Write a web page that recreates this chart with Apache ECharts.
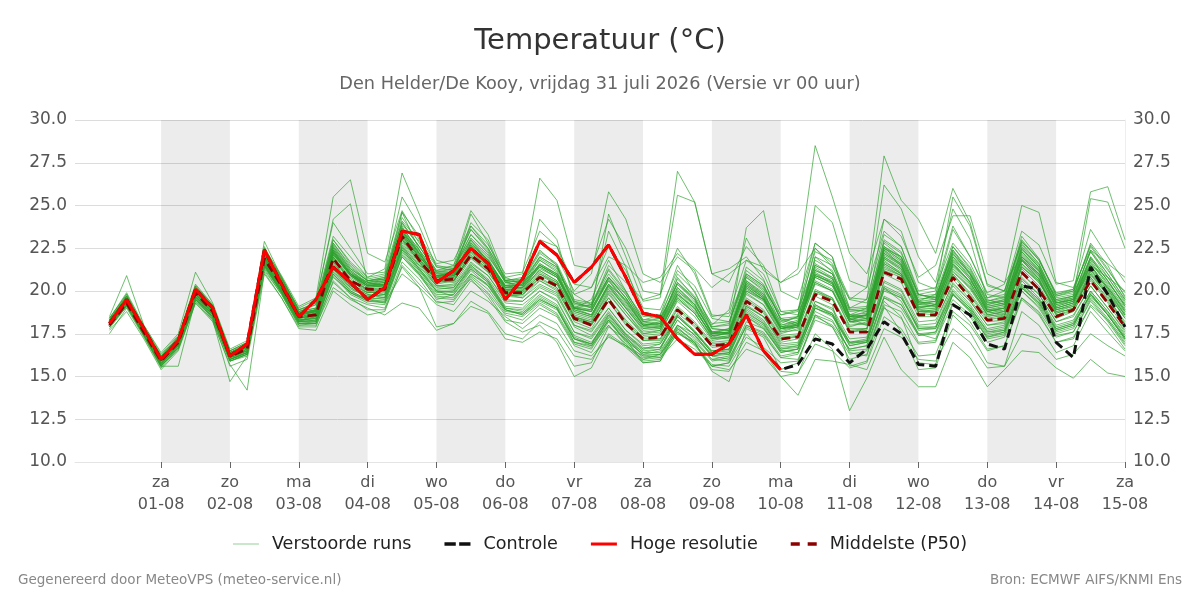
<!DOCTYPE html>
<html><head><meta charset="utf-8">
<script src="https://cdn.jsdelivr.net/npm/echarts@6/dist/echarts.min.js"></script>
<style>html,body{margin:0;padding:0;background:#fff}#c{width:1200px;height:600px}</style>
</head><body><div id="c"></div>
<script>
// ---- time base (6-hourly steps from 31 Jul 2026 06:00 UTC) ----
const startTime = '2026-07-31T06:00:00Z';
const stepHours = 6;
const axisStart = '2026-07-30T18:00:00Z';
const axisEnd = '2026-08-15T00:00:00Z';
const dayTicks = ['2026-08-01','2026-08-02','2026-08-03','2026-08-04','2026-08-05','2026-08-06','2026-08-07','2026-08-08','2026-08-09','2026-08-10','2026-08-11','2026-08-12','2026-08-13','2026-08-14','2026-08-15'];
const shadedDays = ['2026-08-01','2026-08-03','2026-08-05','2026-08-07','2026-08-09','2026-08-11','2026-08-13'];
const weekdays = ['zo','ma','di','wo','do','vr','za'];
const yTicks = [10,12.5,15,17.5,20,22.5,25,27.5,30];

// ---- deterministic runs ----
const hres = [18.1,19.5,17.8, 16.0,17.1,20.1,19.0, 16.2,16.9,22.4,20.4, 18.5,19.5,21.4,20.5, 19.5,20.2,23.5,23.3, 20.5,21.2,22.5,21.6, 19.5,20.7,22.9,22.1, 20.5,21.4,22.7,20.8, 18.7,18.5,17.2,16.3, 16.3,16.9,18.6,16.5, 15.4];
const control = [18.1,19.5,17.8, 16.0,17.1,20.1,19.0, 16.2,16.9,22.4,20.4, 18.5,19.5,21.4,20.5, 19.5,20.2,23.5,23.3, 20.5,21.2,22.5,21.6, 19.5,20.7,22.9,22.1, 20.5,21.4,22.7,20.8, 18.7,18.5,17.2,16.3, 16.3,16.9,18.6,16.5, 15.4,15.7,17.2,16.9, 15.8,16.6,18.2,17.5, 15.7,15.6,19.2,18.6, 16.9,16.6,20.3,20.1, 17.0,16.1,21.4,19.8, 17.9];
const median = [18.0,19.3,17.6, 15.9,17.0,19.9,18.8, 16.2,16.6,21.9,20.3, 18.5,18.6,21.9,20.6, 20.1,20.1,23.2,21.8, 20.6,20.7,22.1,21.3, 19.9,19.9,20.8,20.3, 18.4,18.0,19.5,18.1, 17.2,17.3,18.9,18.0, 16.8,16.9,19.4,18.7, 17.2,17.3,19.8,19.4, 17.6,17.6,21.1,20.7, 18.6,18.6,20.8,19.6, 18.3,18.4,21.1,20.1, 18.5,18.9,20.6,19.3, 17.9];

// ---- perturbed ensemble members ----
const m01 = [18.4,19.8,17.9, 16.1,17.3,20.3,19.1, 16.5,17.0,22.5,20.8, 18.9,19.3,24.2,25.1, 20.5,20.6,24.6,22.4, 20.4,21.0,23.0,21.7, 20.3,20.6,22.4,21.5, 19.0,19.5,21.8,20.0, 18.3,18.6,21.5,19.9, 18.0,18.9,23.1,21.2, 20.5,21.3,28.5,25.5, 22.2,21.0,24.2,23.5, 20.5,20.1,23.8,22.0, 19.8,19.6,23.2,21.9, 19.7,19.9,22.8,21.5, 19.6];
const m02 = [17.9,19.2,17.5, 15.7,16.8,19.6,18.6, 16.0,16.4,21.6,20.1, 18.2,18.7,22.3,21.0, 20.0,19.8,22.6,21.5, 20.8,21.2,24.5,22.8, 20.6,20.1,21.5,20.9, 19.0,18.6,20.4,19.5, 18.0,17.9,20.8,19.6, 17.6,17.8,20.9,20.2, 18.1,18.5,22.5,21.4, 19.5,20.2,27.9,25.3, 24.2,22.2,26.0,24.0, 20.4,20.0,23.0,21.8, 19.8,20.1,23.6,22.0, 20.5];
const m03 = [18.0,19.3,17.6, 15.8,16.9,19.7,18.7, 16.1,16.5,21.8,20.1, 18.3,18.4,21.3,20.2, 19.6,19.5,22.0,21.0, 19.5,19.8,21.0,20.4, 18.9,18.6,19.5,19.0, 17.0,16.8,18.0,16.9, 16.0,16.3,17.6,16.8, 15.6,15.8,17.5,16.4, 15.3,15.2,17.5,16.6, 13.0,14.9,17.3,15.4, 14.4,14.4,17.0,16.1, 14.4,15.4,16.5,16.4, 15.5,14.9,16.0,15.2, 15.0];
const m04 = [18.2,19.5,17.7, 16.0,17.1,19.8,18.7, 16.3,16.7,21.7,20.0, 18.2,18.2,20.8,19.9, 19.5,19.3,21.0,20.2, 19.2,18.8,20.0,19.4, 18.5,17.8,18.6,18.1, 16.5,16.2,17.3,16.8, 16.0,16.1,17.2,16.6, 15.6,15.4,16.6,16.2, 15.0,13.9,16.0,15.9, 15.7,15.4,17.8,17.3, 16.0,15.9,17.8,17.0, 15.5,15.6,17.5,17.2, 16.0,16.3,17.5,16.8, 16.2];
const m05 = [18.5,20.9,18.0, 16.3,17.4,20.4,19.2, 16.5,17.0,22.6,20.7, 19.0,19.5,24.0,22.5, 21.0,21.1,25.5,23.8, 21.4,21.2,23.8,22.5, 20.8,21.0,26.6,25.3, 21.5,21.3,24.2,22.5, 20.0,19.8,22.5,21.0, 18.5,18.7,21.8,21.0, 18.8,18.9,21.5,21.0, 18.6,18.4,22.5,22.0, 19.8,19.5,22.4,21.0, 19.2,19.4,22.0,21.2, 19.3,19.5,21.6,20.5, 19.2];
const m06 = [18.3,19.6,17.8, 16.1,17.2,20.1,19.0, 16.4,16.9,22.2,20.6, 18.8,19.2,22.8,21.5, 20.6,20.8,24.1,22.9, 21.4,21.4,23.0,22.0, 20.6,20.8,22.8,22.0, 20.0,21.0,25.8,24.2, 21.0,20.5,22.0,21.2, 18.6,18.5,21.0,20.3, 18.4,18.1,20.5,20.0, 18.2,18.3,21.6,21.0, 19.0,19.0,21.3,20.2, 18.8,18.6,21.4,20.6, 18.7,19.0,20.9,19.8, 18.5];
const m07 = [17.8,19.1,17.4, 15.6,16.7,19.5,18.4, 15.9,16.3,21.5,20.0, 18.2,18.5,22.1,21.0, 20.3,20.5,23.8,22.2, 20.9,21.1,22.9,21.9, 20.2,20.4,22.0,21.4, 19.2,19.1,21.5,20.5, 19.5,19.8,27.0,25.2, 21.0,21.3,22.0,20.7, 18.3,18.0,20.9,20.5, 18.5,18.8,22.4,21.5, 19.3,19.1,21.7,20.5, 18.9,18.8,21.8,20.7, 18.6,18.9,21.2,19.9, 18.4];
const m08 = [18.2,19.4,17.6, 15.9,17.0,19.9,18.9, 16.3,16.7,22.0,20.4, 18.6,18.9,22.5,21.2, 20.5,20.3,23.5,22.1, 20.8,20.8,22.6,21.6, 20.0,20.2,21.6,21.0, 19.0,18.8,20.8,19.6, 18.0,18.2,20.5,19.5, 17.5,17.8,23.7,24.7, 20.0,19.5,22.8,22.0, 18.4,18.0,21.9,21.2, 18.9,18.7,21.0,19.9, 18.5,18.7,21.6,20.6, 18.8,19.1,21.0,19.7, 18.0];
const m09 = [18.0,19.3,17.5, 15.8,16.9,19.8,18.7, 16.1,16.5,21.7,20.2, 18.4,18.6,22.0,20.8, 20.2,20.3,23.3,21.9, 20.6,20.5,22.3,21.4, 19.8,19.7,21.0,20.5, 18.5,18.2,20.0,18.8, 17.5,17.7,19.8,19.0, 17.4,17.3,20.5,19.7, 17.8,18.0,22.0,21.5, 19.0,19.5,26.2,24.8, 22.0,20.5,24.8,23.0, 19.5,19.2,22.5,21.4, 19.0,19.3,22.0,20.8, 19.4];
const m10 = [18.3,19.7,17.9, 16.2,17.3,20.2,19.1, 16.4,16.8,22.1,20.5, 18.7,18.8,22.2,20.9, 20.3,20.2,23.0,21.7, 20.5,20.9,22.8,21.8, 20.1,20.0,21.3,20.8, 18.8,18.5,20.2,19.0, 17.8,17.9,19.8,19.0, 17.3,17.6,20.2,19.5, 17.9,18.2,21.0,20.4, 18.3,18.6,22.0,21.3, 19.5,19.7,22.2,21.0, 19.6,20.0,23.5,22.7, 20.4,20.6,25.8,26.1, 23.0];
const m11 = [18.1,19.5,17.7, 16.0,17.1,20.0,18.9, 16.2,16.6,21.9,20.3, 18.5,18.7,21.8,20.6, 19.9,20.0,23.0,21.7, 20.3,20.4,21.9,21.1, 19.7,19.6,20.6,20.0, 18.3,18.0,19.8,18.6, 17.4,17.5,19.5,18.7, 17.2,17.4,20.8,20.0, 17.8,17.9,21.0,20.6, 18.4,18.6,22.5,21.8, 19.4,19.8,23.6,22.0, 19.9,20.4,25.0,24.6, 20.5,20.2,22.4,21.0, 19.5];
const m12 = [17.9,19.2,17.5, 15.7,16.8,19.7,18.6, 16.0,16.4,21.7,20.1, 18.3,18.5,21.7,20.4, 19.9,20.0,22.9,21.6, 20.4,20.6,22.0,21.1, 19.7,19.8,20.6,20.1, 18.2,17.8,19.4,18.0, 17.1,17.1,18.7,17.9, 16.7,16.8,19.1,18.5, 17.1,17.4,22.0,21.1, 18.6,19.0,24.2,23.2, 20.8,21.5,24.4,24.4, 21.0,20.5,22.0,21.0, 19.3,19.5,21.2,20.2, 18.9];
const m13 = [18.0,19.2,17.4, 15.6,16.6,19.4,18.3, 14.7,16.2,21.2,19.8, 18.0,18.0,20.2,19.5, 19.0,18.6,19.3,19.0, 17.7,18.1,19.1,18.7, 17.2,17.0,17.6,17.2, 15.6,15.8,17.9,17.2, 15.8,15.9,17.8,17.0, 15.4,15.3,17.0,16.5, 15.0,15.2,16.9,16.5, 15.5,15.8,18.5,17.8, 16.2,16.3,18.8,18.0, 16.5,16.8,19.5,18.6, 17.0,17.2,19.2,18.3, 17.0];
const m14 = [18.3,19.6,17.8, 16.1,17.2,20.2,19.1, 16.4,16.8,22.3,20.8, 18.9,19.3,23.2,22.0, 20.8,21.3,26.9,24.5, 21.8,21.5,23.6,22.4, 20.5,20.3,21.8,21.2, 19.0,18.8,20.6,19.3, 18.0,18.1,20.2,19.2, 17.6,17.5,19.9,19.2, 17.6,17.7,20.5,20.0, 17.9,18.2,21.8,21.0, 18.8,18.9,21.1,20.2, 18.6,18.5,21.6,20.7, 18.9,19.1,20.8,19.6, 18.2];
const m15 = [18.4,19.9,18.0, 16.4,17.5,21.1,19.3, 16.6,17.1,22.5,20.9, 19.1,19.6,25.5,26.5, 22.2,21.7,24.7,23.0, 21.5,21.3,23.3,22.2, 20.5,20.6,22.0,21.4, 19.4,19.2,21.0,19.8, 18.2,18.4,21.0,20.0, 17.8,17.7,20.0,19.5, 17.8,17.9,21.1,20.5, 18.2,18.0,21.5,20.9, 18.7,18.8,21.5,20.4, 18.6,18.8,21.8,20.7, 18.8,18.9,21.0,19.9, 18.6];
const m16 = [17.7,18.8,17.2, 15.4,16.5,19.3,18.3, 15.6,16.0,21.0,19.6, 17.8,17.7,20.0,19.2, 18.6,18.8,21.5,20.4, 19.4,19.2,20.6,19.8, 18.3,18.1,19.0,18.5, 16.8,16.4,18.0,16.8, 16.2,16.1,17.5,17.0, 16.0,15.9,18.0,17.6, 16.2,16.4,19.0,18.6, 16.8,17.0,20.2,19.4, 17.5,17.2,19.8,18.8, 17.3,17.5,20.2,19.2, 17.6,17.9,19.9,18.6, 17.2];
const m17 = [18.1,19.4,17.7, 16.0,17.0,19.9,18.8, 16.2,16.5,21.8,20.2, 18.4,18.6,22.0,20.7, 20.1,20.0,23.1,21.8, 20.7,20.6,22.2,21.4, 19.9,19.9,20.7,20.2, 18.4,18.1,19.6,18.2, 17.2,17.2,19.0,18.1, 16.9,17.0,19.5,18.8, 17.3,17.4,19.9,19.5, 17.7,17.8,21.2,20.8, 18.7,18.6,20.9,19.7, 18.3,18.5,21.0,20.1, 18.6,18.8,20.7,19.4, 18.0];
const m18 = [18.2,19.5,17.8, 16.0,17.1,20.0,18.9, 16.3,16.7,22.0,20.4, 18.6,18.8,22.4,21.0, 20.4,20.3,23.4,22.0, 20.8,21.0,22.4,21.6, 20.2,20.2,21.2,20.6, 18.7,18.4,20.3,19.0, 17.7,17.8,19.7,18.8, 17.5,17.6,20.6,19.8, 18.0,18.3,21.3,20.7, 18.8,18.9,22.6,22.0, 19.4,19.2,22.0,20.8, 18.9,19.0,22.2,21.2, 19.2,19.5,21.8,20.4, 19.0];
const m19 = [18.0,19.3,17.5, 15.8,16.9,19.8,18.7, 16.1,16.5,21.6,20.0, 18.3,18.3,21.3,20.1, 19.7,19.8,22.7,21.4, 20.3,20.2,21.6,20.9, 19.4,19.4,20.2,19.7, 17.9,17.4,18.8,17.5, 16.7,16.7,18.3,17.4, 16.3,16.4,18.7,18.1, 16.6,16.8,19.0,18.6, 16.8,17.0,20.0,19.6, 17.9,17.9,20.0,19.0, 17.7,17.9,20.4,19.5, 17.9,18.2,20.0,18.8, 17.5];
const m20 = [18.3,19.6,17.8, 16.1,17.2,20.1,19.0, 16.4,16.8,22.2,20.6, 18.7,18.9,22.6,21.3, 20.6,20.8,24.0,22.6, 21.2,21.5,24.7,23.3, 20.8,20.4,21.5,20.9, 18.9,18.6,20.4,19.1, 17.9,17.8,19.6,18.7, 17.3,17.2,19.8,19.2, 17.5,17.8,20.4,20.0, 18.0,18.1,21.7,21.1, 18.9,19.0,21.4,20.3, 18.7,18.9,21.5,20.5, 18.9,19.2,21.3,20.0, 18.6];
const m21 = [17.9,19.1,17.4, 15.6,15.6,19.5,18.5, 15.9,16.3,21.4,19.9, 18.1,18.1,21.0,19.9, 19.4,19.3,22.1,21.0, 19.7,19.6,21.0,20.3, 18.9,18.7,19.5,19.0, 17.2,16.9,18.3,17.1, 16.3,16.5,18.0,17.2, 16.0,16.2,18.5,17.9, 16.4,16.6,18.8,18.3, 16.5,16.6,19.6,19.2, 17.4,17.5,19.5,18.6, 17.3,17.6,20.0,19.1, 17.5,17.8,19.6,18.4, 17.1];
const m22 = [18.2,19.7,17.9, 16.2,17.3,20.3,19.1, 16.4,16.9,22.3,20.7, 18.8,19.0,23.0,21.6, 20.7,20.9,24.3,22.8, 21.2,21.3,23.3,22.3, 20.6,20.7,22.3,21.6, 19.5,19.3,21.2,19.9, 18.5,18.6,20.7,19.7, 18.1,18.2,21.0,20.3, 18.4,18.5,21.5,21.0, 18.9,19.0,22.9,22.2, 19.8,19.6,22.3,21.1, 19.3,19.4,22.5,21.4, 19.5,19.7,25.4,25.2, 22.5];
const m23 = [18.1,19.3,17.6, 15.9,17.0,19.9,18.7, 16.1,16.6,21.8,20.2, 18.4,18.6,21.6,20.3, 19.8,19.6,22.4,21.2, 20.0,19.7,20.7,19.6, 18.2,17.6,18.0,17.0, 15.0,15.5,17.5,16.8, 15.9,16.0,18.0,17.5, 16.2,16.0,18.2,17.8, 16.5,16.4,19.0,18.5, 17.0,17.2,20.5,20.0, 18.0,18.1,20.5,19.4, 18.0,18.1,20.7,19.8, 18.2,18.5,20.3,19.0, 17.6];
const m24 = [18.2,19.4,17.7, 16.0,17.1,20.0,18.8, 16.2,16.7,22.0,20.4, 18.6,18.8,22.1,20.9, 20.3,20.4,23.4,22.0, 20.9,21.0,22.6,21.7, 20.2,20.4,23.0,22.6, 19.8,19.2,20.8,19.8, 18.2,18.0,20.0,19.2, 17.6,17.5,20.4,19.6, 17.9,18.0,20.6,20.1, 18.2,18.4,21.9,21.3, 19.0,19.2,21.6,20.5, 18.8,19.0,21.9,20.9, 19.1,19.4,21.5,20.1, 18.7];
const m25 = [18.0,19.2,17.5, 15.8,16.9,19.7,18.6, 16.1,16.4,21.6,20.1, 18.3,18.4,21.5,20.3, 19.8,19.7,22.5,21.3, 20.1,20.2,21.5,20.7, 19.3,19.2,20.0,19.5, 17.6,17.3,18.7,17.4, 16.6,16.9,18.5,17.6, 16.5,16.6,19.0,18.3, 16.8,16.9,19.4,19.0, 17.2,17.3,20.6,20.1, 18.2,18.3,20.4,19.4, 18.0,18.2,20.8,19.8, 18.2,18.6,20.3,19.0, 17.7];
const m26 = [18.3,19.6,17.8, 16.1,17.2,20.1,19.0, 16.3,16.8,22.1,20.5, 18.6,18.9,22.4,21.1, 20.4,20.5,23.6,22.3, 21.0,21.1,22.7,21.8, 20.3,20.3,21.5,20.9, 19.1,18.9,24.5,22.0, 19.4,19.6,25.6,25.2, 21.0,20.5,22.6,21.5, 18.8,18.6,21.2,20.8, 18.6,18.7,22.2,21.5, 19.2,19.4,21.8,20.7, 19.0,19.2,22.0,21.0, 19.0,19.3,21.5,20.2, 18.8];
const m27 = [17.9,19.2,17.5, 15.7,16.8,19.6,18.5, 16.0,16.4,21.5,20.0, 18.2,18.3,21.2,20.0, 19.5,19.6,22.4,21.2, 20.0,19.9,21.3,20.5, 19.0,18.9,19.8,19.2, 17.4,17.0,18.4,17.3, 16.4,16.4,18.0,17.3, 16.2,16.3,18.5,17.8, 16.4,16.6,19.2,18.7, 16.9,17.1,20.3,19.8, 17.8,17.9,20.3,19.2, 17.8,18.0,20.6,19.6, 18.0,18.3,20.0,18.8, 17.4];
const m28 = [18.4,19.8,17.9, 16.2,17.3,20.3,19.2, 16.5,16.9,22.9,20.8, 18.9,19.2,23.0,21.7, 20.8,21.0,24.6,23.2, 21.6,21.8,23.8,22.7, 21.0,21.1,23.5,22.6, 20.4,20.2,22.6,21.2, 19.0,18.9,21.2,20.3, 18.4,18.2,20.8,20.1, 18.6,18.8,22.3,21.8, 19.6,19.5,23.3,22.6, 20.0,20.2,22.8,21.6, 19.6,19.8,22.9,21.8, 19.9,20.1,22.6,21.2, 19.9];
const m29 = [17.5,19.0,17.3, 15.5,16.6,19.3,18.2, 15.7,14.2,21.1,19.6, 17.9,17.9,20.6,19.6, 19.2,19.0,21.7,20.7, 19.3,19.4,20.8,19.9, 18.6,18.3,19.2,18.6, 16.9,16.6,18.2,17.1, 16.3,16.3,17.8,17.1, 15.9,16.1,17.9,17.4, 16.1,16.0,18.3,17.9, 16.3,16.5,19.2,18.8, 17.0,17.1,19.3,18.5, 17.0,17.3,19.6,18.8, 17.3,17.6,19.5,18.3, 16.9];
const m30 = [18.2,19.5,17.7, 16.0,17.1,20.0,18.9, 16.3,16.7,22.1,20.4, 18.6,18.8,22.2,20.9, 20.2,20.3,23.3,21.9, 20.7,20.8,22.3,21.5, 20.0,20.0,21.0,20.4, 18.5,18.2,19.9,18.6, 17.5,17.6,19.4,18.5, 17.1,17.3,20.0,19.4, 17.6,17.9,20.8,20.3, 18.4,18.5,22.3,21.6, 19.3,19.4,22.0,20.9, 19.1,19.3,22.6,21.5, 19.4,19.6,22.4,21.6, 20.8];
const m31 = [18.1,19.4,17.6, 15.9,17.0,19.9,18.8, 16.2,16.6,21.9,20.3, 18.5,18.7,22.0,20.6, 20.0,20.1,23.1,21.8, 20.6,20.6,22.0,21.2, 19.8,19.6,20.4,19.9, 18.0,17.6,19.0,17.7, 16.8,16.9,18.5,17.6, 16.4,16.5,19.2,18.5, 16.9,17.0,19.7,19.2, 15.6,15.9,19.0,18.4, 16.9,17.0,19.8,18.9, 17.4,17.6,20.2,19.3, 17.8,18.1,19.8,18.7, 17.3];
const m32 = [18.2,19.6,17.8, 16.1,17.2,20.1,19.0, 16.3,16.8,22.2,20.6, 18.7,18.9,22.5,21.1, 20.5,20.7,23.7,22.4, 21.1,21.3,23.6,22.5, 20.7,20.6,21.9,21.3, 19.3,19.1,21.3,20.0, 18.3,18.4,20.4,19.5, 17.9,18.0,21.2,20.4, 18.3,18.4,21.8,21.2, 18.9,18.8,22.6,21.9, 19.6,19.5,22.6,21.3, 19.4,19.7,22.9,21.9, 19.8,20.0,22.7,21.3, 19.7];
const m33 = [18.0,19.4,17.6, 15.9,17.0,19.8,18.8, 16.2,16.6,21.9,20.3, 18.5,18.5,21.9,20.6, 20.1,20.2,23.0,21.7, 20.5,20.6,22.0,21.3, 19.8,19.8,20.8,20.2, 18.4,18.0,19.4,18.1, 17.1,17.2,18.9,18.0, 16.8,16.9,19.4,18.7, 17.2,17.3,20.0,19.5, 17.6,17.7,21.0,20.5, 18.5,18.5,20.7,19.5, 18.2,18.3,21.0,20.0, 18.4,18.8,20.6,19.3, 17.8];
const m34 = [18.0,19.3,17.5, 15.7,16.8,19.7,18.6, 16.0,16.3,21.5,19.9, 18.2,18.2,21.1,20.0, 19.5,19.4,22.3,21.1, 19.9,20.0,21.4,20.6, 19.1,19.0,20.0,19.4, 17.6,17.2,18.6,17.4, 16.5,16.6,18.3,17.4, 16.2,16.4,18.8,18.1, 16.6,16.7,19.1,18.7, 17.0,17.0,20.1,19.6, 17.8,17.8,19.9,19.0, 17.6,17.8,20.4,19.5, 17.8,18.1,19.8,18.6, 17.3];
const m35 = [18.3,19.7,17.8, 16.2,17.3,20.2,19.1, 16.4,16.8,22.2,20.6, 18.7,18.9,22.6,21.2, 20.4,20.6,23.7,22.4, 21.0,21.0,22.8,21.8, 20.3,20.4,21.6,21.0, 19.0,18.9,20.8,19.6, 18.1,18.2,20.4,19.4, 17.8,17.7,20.5,19.8, 18.2,18.5,25.0,24.0, 20.6,20.2,23.5,22.6, 19.8,19.6,22.4,21.2, 19.3,19.5,22.4,21.4, 19.5,19.7,22.0,20.6, 19.2];
const m36 = [18.1,19.5,17.7, 16.0,17.1,20.0,18.9, 16.3,16.7,22.0,20.4, 18.6,18.7,22.2,20.9, 20.3,20.3,23.4,22.0, 20.8,20.8,22.4,21.5, 20.0,20.0,21.1,20.5, 18.6,18.3,20.1,18.8, 17.6,17.7,19.6,18.7, 17.2,17.3,20.1,19.5, 17.7,17.9,20.9,20.5, 18.3,18.6,22.8,22.0, 19.8,20.0,25.5,23.8, 20.3,20.0,22.8,21.6, 19.4,19.7,22.3,20.8, 19.3];
const m37 = [17.9,19.2,17.4, 15.6,16.7,19.5,18.4, 15.9,16.2,21.3,19.8, 18.0,18.1,20.9,19.8, 19.3,19.2,22.0,20.9, 19.6,19.5,20.9,20.1, 18.7,18.5,19.3,18.7, 17.0,16.7,18.3,17.0, 16.1,16.2,17.7,16.9, 15.7,15.6,17.3,16.7, 15.8,15.9,18.6,17.9, 16.0,16.3,19.1,17.6, 15.4,15.5,18.6,17.6, 15.8,15.6,18.8,18.0, 16.4,16.8,18.8,17.6, 16.5];
const m38 = [18.2,19.5,17.7, 16.0,17.1,20.0,18.9, 16.3,16.7,22.1,20.5, 18.6,18.8,22.3,21.0, 20.4,20.5,23.6,22.2, 20.9,20.9,22.5,21.6, 20.1,20.1,21.2,20.6, 18.8,18.5,20.4,19.2, 17.9,18.0,19.9,19.0, 17.4,17.5,20.3,19.6, 17.8,18.1,21.2,20.7, 18.5,18.6,22.2,21.6, 19.2,19.3,21.9,20.8, 18.9,19.1,22.1,21.1, 19.2,19.4,21.7,20.3, 18.9];
const m39 = [18.0,19.2,17.5, 15.7,16.8,19.6,18.5, 16.0,16.4,21.5,20.0, 18.2,18.3,21.4,20.2, 19.7,19.6,22.5,21.3, 20.0,20.0,21.5,20.6, 19.0,18.8,19.7,19.1, 17.3,16.9,18.5,17.3, 16.2,16.3,17.9,17.0, 15.3,14.7,17.8,17.3, 15.4,15.8,18.5,18.0, 16.6,16.8,19.6,19.0, 17.4,17.6,19.8,18.8, 17.2,17.4,20.0,19.0, 17.4,17.6,19.4,18.2, 16.8];
const m40 = [18.3,19.5,17.8, 16.1,17.2,20.0,18.9, 16.3,16.8,22.0,20.5, 18.6,18.9,22.2,21.0, 20.5,20.6,23.2,22.0, 20.9,21.0,22.4,21.6, 20.4,20.5,21.5,21.0, 19.8,20.2,22.0,21.5, 20.5,20.8,22.2,21.3, 20.2,21.0,21.8,21.4, 20.5,21.0,22.5,21.6, 19.5,19.3,21.6,21.0, 19.0,19.2,21.5,20.6, 19.2,19.5,21.8,21.0, 19.7,20.0,21.5,20.8, 20.0];
const m41 = [18.2,19.6,17.7, 16.0,17.2,20.1,18.9, 16.3,16.8,22.1,20.5, 18.7,18.8,22.4,21.0, 20.3,20.4,23.5,22.2, 20.9,20.9,22.5,21.6, 20.1,20.2,21.4,20.8, 19.0,19.2,23.5,21.4, 18.6,18.4,20.2,19.3, 17.5,17.6,20.4,19.7, 17.9,18.1,21.4,20.8, 18.5,18.6,22.4,21.7, 19.3,19.4,22.1,21.0, 19.0,19.2,22.3,21.3, 19.3,19.5,21.9,20.6, 19.1];
const m42 = [18.0,19.3,17.5, 15.8,16.9,19.7,18.6, 16.1,16.5,21.6,20.1, 18.3,18.4,21.5,20.3, 19.7,19.8,22.6,21.3, 20.2,20.1,21.3,20.5, 18.9,18.6,19.4,18.9, 17.2,16.8,18.3,17.2, 16.4,16.6,18.6,17.6, 16.4,16.3,18.6,18.0, 16.5,16.6,19.4,18.9, 17.0,17.1,20.2,19.7, 17.7,17.8,20.1,19.1, 17.6,17.7,20.3,19.4, 17.7,18.0,19.7,18.6, 17.2];
const m43 = [18.3,19.7,17.9, 16.1,17.2,20.2,19.0, 16.4,16.8,22.3,20.7, 18.8,19.0,22.8,21.4, 20.6,20.7,24.0,22.6, 21.1,21.2,23.1,22.1, 20.5,20.6,22.2,21.5, 19.3,19.0,20.8,19.6, 18.2,18.3,20.5,19.6, 17.9,18.1,21.4,20.6, 18.6,18.9,22.8,22.0, 19.0,19.1,23.0,22.3, 19.7,19.8,22.6,21.4, 19.4,19.6,22.7,21.6, 19.6,19.8,22.3,21.0, 19.5];
const m44 = [18.1,19.4,17.6, 15.9,17.0,19.8,18.7, 16.2,16.6,21.8,20.2, 18.4,18.5,21.7,20.4, 19.9,19.9,22.8,21.5, 20.3,20.3,21.7,20.9, 19.5,19.4,20.3,19.8, 18.0,17.7,19.0,17.7, 16.9,17.0,18.6,17.7, 16.5,16.6,18.9,18.2, 16.7,16.8,19.2,18.6, 16.4,16.2,19.4,18.5, 15.8,15.7,19.3,18.2, 16.6,16.8,19.6,18.7, 17.0,17.3,19.1,18.0, 16.6];
const m45 = [18.2,19.5,17.7, 16.0,17.1,20.0,18.9, 16.3,16.7,22.0,20.4, 18.6,18.8,22.3,21.0, 20.3,20.4,23.5,22.1, 20.8,20.9,22.6,21.7, 20.2,20.2,24.2,23.0, 19.4,19.0,20.6,19.4, 18.0,18.1,20.1,19.2, 17.5,17.6,20.2,19.5, 17.8,18.0,20.9,20.4, 18.3,18.4,22.0,21.4, 19.1,19.2,21.8,20.7, 18.8,19.0,21.9,20.9, 19.1,19.4,21.5,20.2, 18.8];
const m46 = [17.9,19.1,17.4, 15.6,16.7,19.5,18.4, 15.9,16.3,21.4,19.9, 18.1,18.2,21.0,19.9, 19.4,19.4,22.2,21.0, 19.8,19.8,21.2,20.3, 18.8,18.7,19.6,19.0, 17.2,16.9,18.6,17.5, 16.6,16.7,18.5,17.6, 16.4,16.6,19.1,18.5, 17.0,17.2,20.0,19.6, 17.6,17.8,21.4,20.9, 18.8,18.9,21.2,20.1, 18.6,18.8,21.4,20.5, 18.9,19.2,21.1,19.8, 18.4];
const m47 = [18.1,19.4,17.6, 15.9,17.0,19.9,18.8, 16.2,16.6,21.9,20.3, 18.5,18.6,21.9,20.6, 20.1,20.1,23.2,21.8, 20.6,20.7,22.1,21.3, 19.9,19.9,20.9,20.4, 18.5,18.1,19.6,18.3, 17.3,17.4,19.1,18.2, 17.0,17.1,19.6,18.9, 17.4,17.5,20.1,19.6, 17.8,17.8,21.3,20.9, 18.8,18.8,21.0,19.8, 18.4,18.6,21.3,20.3, 18.7,19.0,20.8,19.5, 18.1];
const m48 = [18.2,19.6,17.8, 16.1,17.2,20.1,19.0, 16.3,16.7,22.1,20.5, 18.6,18.8,22.3,21.0, 20.3,20.4,23.5,22.2, 20.9,21.0,22.7,21.8, 20.3,20.3,21.4,20.8, 18.9,18.6,20.3,19.0, 17.8,17.9,19.8,18.9, 17.4,17.5,20.3,19.6, 17.8,18.0,20.8,20.3, 18.2,18.3,22.1,21.5, 19.1,19.1,21.6,20.5, 18.8,19.0,21.8,20.8, 19.0,19.3,21.4,20.1, 18.6];
const m49 = [18.0,19.2,17.5, 15.7,16.8,19.6,18.5, 16.0,16.4,21.5,19.9, 18.1,18.1,20.5,19.6, 18.9,18.9,21.4,20.2, 17.9,18.1,19.4,18.8, 17.5,17.2,18.2,17.7, 16.2,16.0,17.4,16.7, 15.8,15.9,17.6,16.9, 15.6,15.8,18.0,17.5, 16.1,16.3,18.6,18.2, 16.6,16.8,19.7,19.2, 17.5,17.6,19.8,18.9, 17.5,17.7,20.2,19.3, 17.7,18.0,19.8,18.6, 17.2];
const m50 = [18.3,19.6,17.8, 16.1,17.2,20.1,19.0, 16.4,16.8,22.2,20.6, 18.7,18.9,22.7,21.3, 20.6,20.7,23.9,22.6, 21.1,21.1,24.0,23.0, 20.6,20.5,21.8,21.1, 19.0,18.8,20.7,19.4, 18.0,18.1,20.0,19.1, 17.6,17.7,20.6,19.9, 18.0,18.2,21.6,21.0, 18.5,18.6,22.5,21.8, 19.4,19.5,22.2,21.0, 19.1,19.3,22.3,21.2, 19.3,19.6,21.9,20.6, 19.1];
const members = [m01,m02,m03,m04,m05,m06,m07,m08,m09,m10,m11,m12,m13,m14,m15,m16,m17,m18,m19,m20,m21,m22,m23,m24,m25,m26,m27,m28,m29,m30,m31,m32,m33,m34,m35,m36,m37,m38,m39,m40,m41,m42,m43,m44,m45,m46,m47,m48,m49,m50];

// ---- helpers ----
const t0 = Date.parse(startTime);
const xAt = i => t0 + i * stepHours * 3600 * 1000;
const toPairs = arr => arr.map((v, i) => [xAt(i), v]);
const dayMs = d => Date.parse(d + 'T00:00:00Z');
const FONT = 'DejaVu Sans';
const GREEN = '#2ca02c';

const ensembleSeries = members.map(m => ({
  type: 'line', name: 'Verstoorde runs', data: toPairs(m),
  symbol: 'none', showSymbol: false, silent: true, z: 2,
  lineStyle: { width: 1, color: GREEN, opacity: 0.68 },
  itemStyle: { color: GREEN, opacity: 0.68 }
}));

const option = {
  animation: false,
  backgroundColor: '#fff',
  textStyle: { fontFamily: FONT },
  title: {
    text: 'Temperatuur (°C)',
    subtext: 'Den Helder/De Kooy, vrijdag 31 juli 2026 (Versie vr 00 uur)',
    left: 'center', top: 22, itemGap: 19,
    textStyle: { fontFamily: FONT, fontSize: 29, fontWeight: 'normal', color: '#333' },
    subtextStyle: { fontFamily: FONT, fontSize: 17.7, color: '#666' }
  },
  legend: {
    top: 530, left: 'center', itemGap: 33, itemWidth: 26, itemHeight: 12,
    data: [
      { name: 'Verstoorde runs', icon: 'path://M0,0h26v1.2h-26z', itemStyle: { color: 'rgba(44,160,44,0.6)' } },
      { name: 'Controle', icon: 'path://M0,0h10v3h-10zM13,0h10v3h-10z', itemStyle: { color: '#111' } },
      { name: 'Hoge resolutie', icon: 'path://M0,0h26v3h-26z', itemStyle: { color: '#ff0000' } },
      { name: 'Middelste (P50)', icon: 'path://M0,0h8v3h-8zM15,0h8v3h-8z', itemStyle: { color: '#8b0000' } }
    ],
    textStyle: { fontFamily: FONT, fontSize: 17.6, color: '#222', padding: [0, 0, 0, 8] }
  },
  grid: { left: 75, right: 75, top: 120, bottom: 138, containLabel: false },
  xAxis: {
    type: 'value', min: Date.parse(axisStart), max: Date.parse(axisEnd),
    splitLine: { show: false },
    axisLine: { show: true, lineStyle: { color: '#e4e4e4' } },
    axisTick: { show: true, length: 6, lineStyle: { color: '#666' }, customValues: dayTicks.map(dayMs) },
    axisLabel: {
      customValues: dayTicks.map(dayMs), color: '#555', fontSize: 16, lineHeight: 22, margin: 10,
      formatter: v => { const d = new Date(v); const dd = String(d.getUTCDate()).padStart(2, '0'); const mm = String(d.getUTCMonth() + 1).padStart(2, '0'); return weekdays[d.getUTCDay()] + '\n' + dd + '-' + mm; }
    }
  },
  yAxis: [
    { type: 'value', min: yTicks[0], max: yTicks[yTicks.length - 1], interval: 2.5, position: 'left',
      axisLine: { show: false }, axisTick: { show: false },
      splitLine: { lineStyle: { color: '#dcdcdc' } },
      axisLabel: { color: '#555', fontSize: 17, margin: 8, formatter: v => v.toFixed(1) } },
    { type: 'value', min: yTicks[0], max: yTicks[yTicks.length - 1], interval: 2.5, position: 'right',
      axisLine: { show: true, lineStyle: { color: '#eeeeee' } }, axisTick: { show: false },
      splitLine: { show: false },
      axisLabel: { color: '#555', fontSize: 17, margin: 8, formatter: v => v.toFixed(1) } }
  ],
  series: [
    { type: 'line', name: 'bands', data: [], silent: true, z: 1,
      markArea: { silent: true, itemStyle: { color: 'rgba(0,0,0,0.075)' },
        data: shadedDays.map(d => [{ xAxis: dayMs(d) }, { xAxis: dayMs(d) + 86400000 }]) } },
    ...ensembleSeries,
    { type: 'line', name: 'Controle', data: toPairs(control), symbol: 'none', z: 5,
      lineStyle: { width: 3, color: '#111', type: [9, 5] }, itemStyle: { color: '#111' } },
    { type: 'line', name: 'Middelste (P50)', data: toPairs(median), symbol: 'none', z: 6,
      lineStyle: { width: 2.8, color: '#8b0000', type: [9, 5] }, itemStyle: { color: '#8b0000' } },
    { type: 'line', name: 'Hoge resolutie', data: toPairs(hres), symbol: 'none', z: 7,
      lineStyle: { width: 3, color: '#ff0000' }, itemStyle: { color: '#ff0000' } }
  ],
  graphic: [
    { type: 'text', left: 18, top: 573, style: { text: 'Gegenereerd door MeteoVPS (meteo-service.nl)', fontFamily: FONT, fontSize: 13.5, fill: '#888' } },
    { type: 'text', right: 18, top: 573, style: { text: 'Bron: ECMWF AIFS/KNMI Ens', fontFamily: FONT, fontSize: 13.5, fill: '#888' } }
  ]
};
const chart = echarts.init(document.getElementById('c'), null, { renderer: 'canvas' });
chart.setOption(option);
</script></body></html>
